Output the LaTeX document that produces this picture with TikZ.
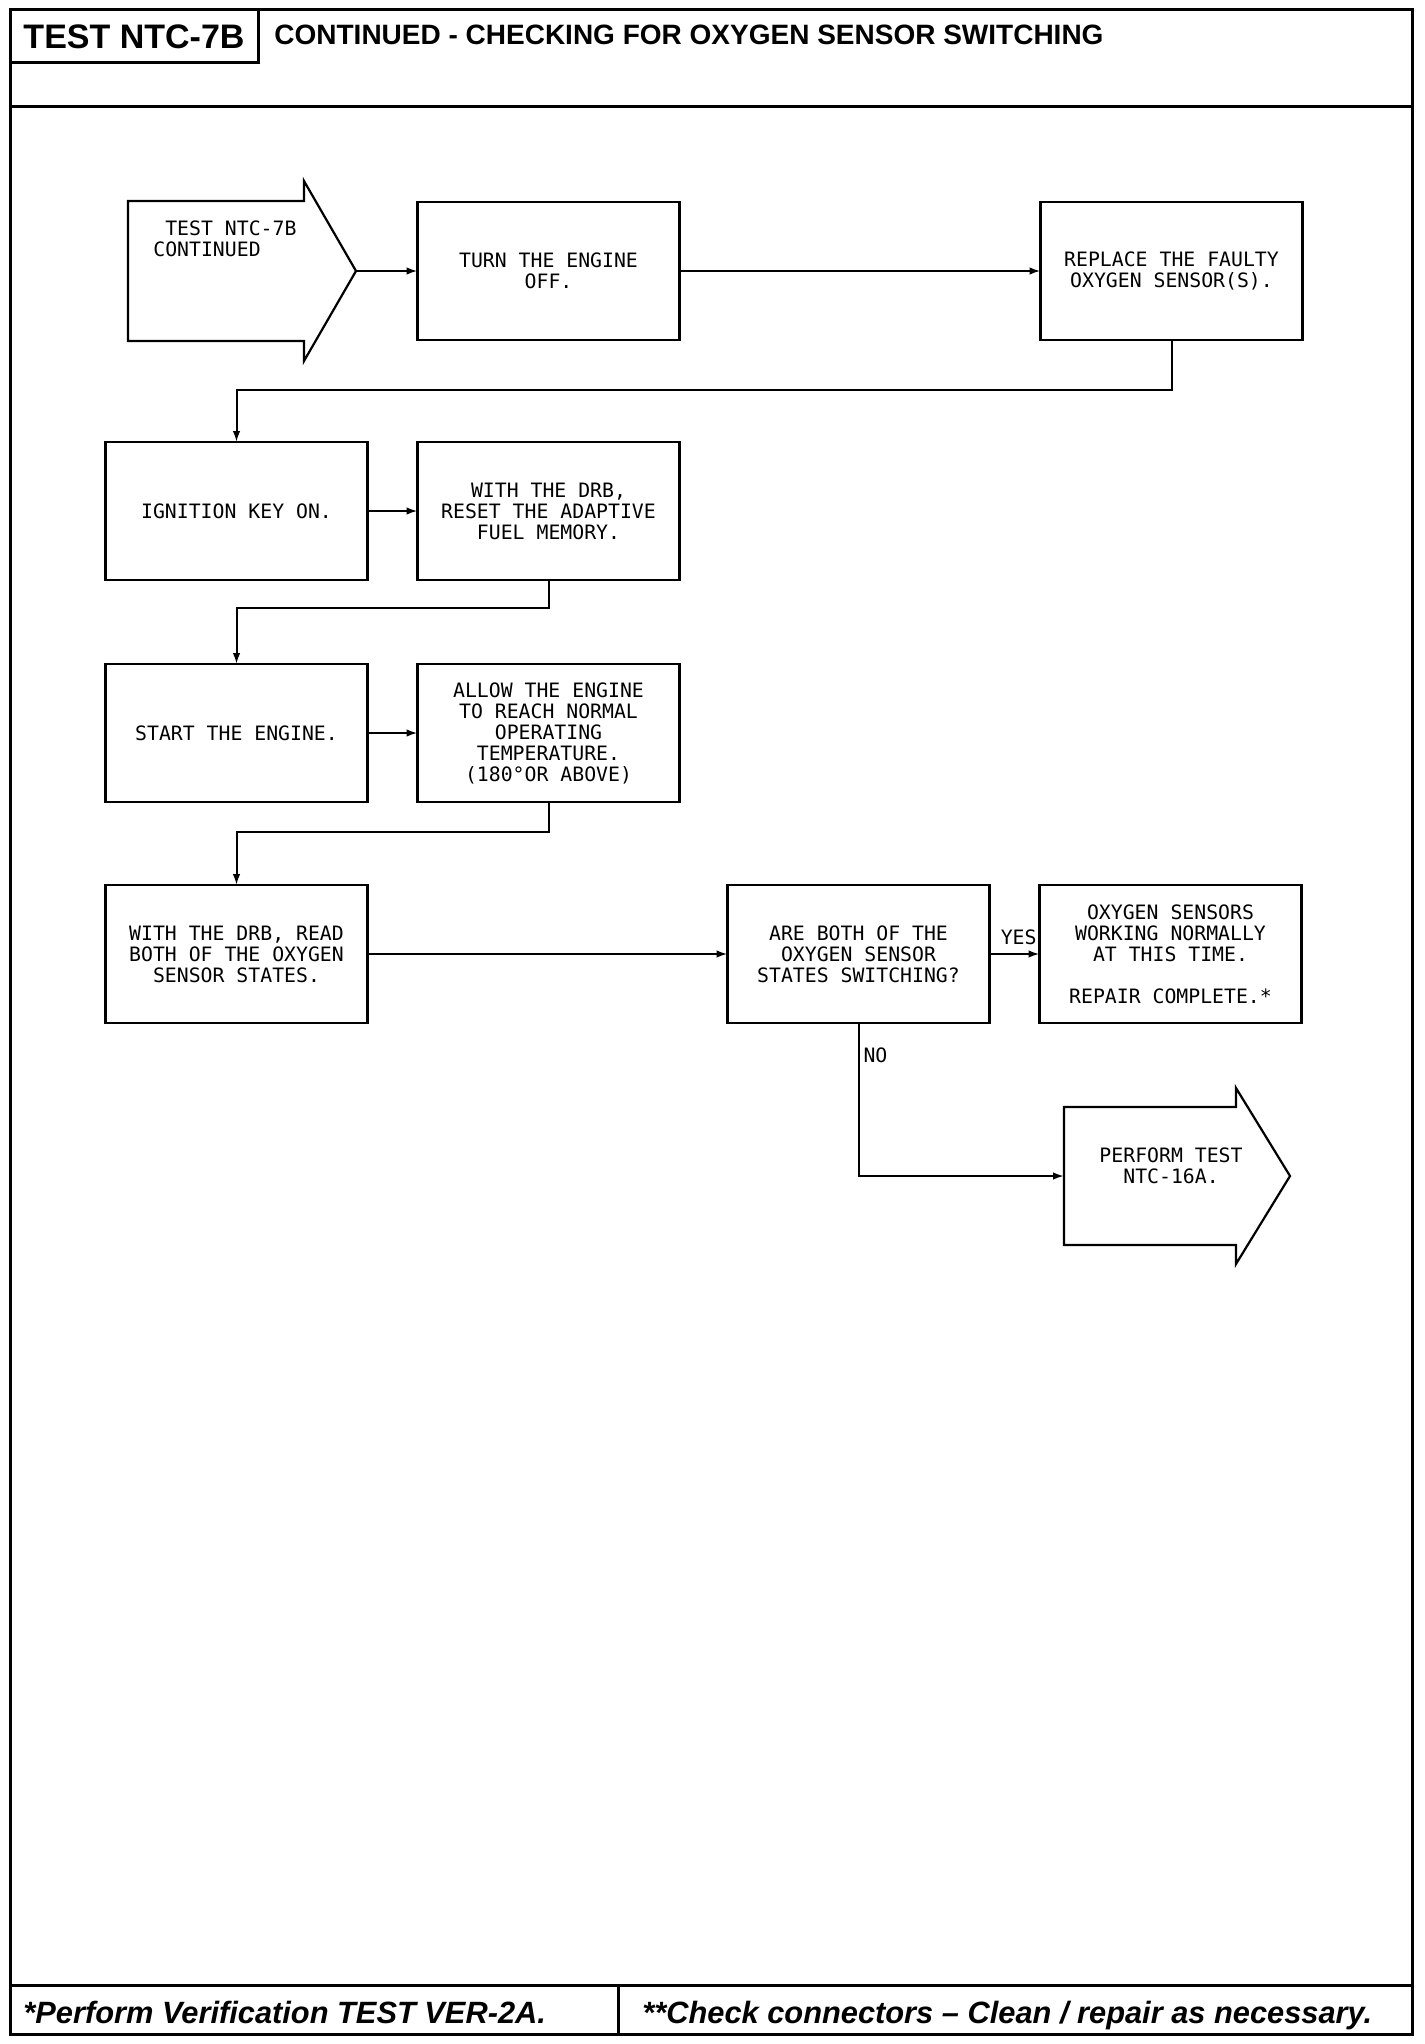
\documentclass[tikz,border=0pt]{standalone}
\usepackage{fontspec}
\usepackage{tikz}
\usetikzlibrary{arrows.meta,positioning,calc}
\newfontfamily\plotfont{DejaVu Sans Mono}
\newfontfamily\headfont{Liberation Sans}

\begin{document}
\begin{tikzpicture}[
  x=0.5pt, y=-0.5pt,
  stepbox/.style={draw, line width=1.1pt, outer sep=0pt, minimum width=131pt, minimum height=69pt, align=center, inner sep=2pt, font=\plotfont\fontsize{9.9}{10.5}\selectfont},
  tag/.style={font=\plotfont\fontsize{9.9}{10.5}\selectfont, inner sep=2pt},
  arr/.style={-{Latex[length=5.5pt,width=3.8pt]}, line width=1pt},
  frame/.style={line width=1.5pt},
]
\path[fill=white, use as bounding box] (0,0) rectangle (1424,2044);

% sheet frame, header and footer
\draw[frame] (10,10) rectangle (1412,2034);
\draw[frame] (10,107) -- (1412,107);
\draw[frame] (10,1985) -- (1412,1985);
\draw[frame] (618,1985) -- (618,2034);
\node[draw, frame, minimum width=124pt, minimum height=26.5pt, inner sep=0pt, font=\headfont\bfseries\fontsize{17}{19}\selectfont] (testtag) at (134,36.5) {TEST NTC-7B};
\node[anchor=west, inner sep=0pt, font=\headfont\bfseries\fontsize{14}{16}\selectfont] (title) at (274,35) {CONTINUED - CHECKING FOR OXYGEN SENSOR SWITCHING};
\node[anchor=base west, inner sep=0pt, font=\headfont\bfseries\itshape\fontsize{15.4}{17}\selectfont] (footL) at (23,2023) {*Perform Verification TEST VER-2A.};
\node[anchor=base west, inner sep=0pt, font=\headfont\bfseries\itshape\fontsize{15.4}{17}\selectfont] (footR) at (642,2023) {**Check connectors – Clean / repair as necessary.};

% entry arrow
\draw[line width=1.1pt] (128,201) -- (304,201) -- (304,181) -- (356,271) -- (304,361) -- (304,341) -- (128,341) -- cycle;
\coordinate (starttip) at (356,271);
\node[tag, anchor=west, align=left, inner sep=0pt] (starttext) at (153,238.5) {\phantom{T}TEST NTC-7B\\CONTINUED};

% steps
\node[stepbox] (ignition) at (236.5,511) {IGNITION KEY ON.};
\node[stepbox, right=25pt of ignition] (reset) {WITH THE DRB,\\RESET THE ADAPTIVE\\FUEL MEMORY.};
\node[stepbox, above=51pt of reset] (turnoff) {TURN THE ENGINE\\OFF.};
\node[stepbox, right=180.5pt of turnoff] (replace) {REPLACE THE FAULTY\\OXYGEN SENSOR(S).};
\node[stepbox, below=42pt of ignition] (startengine) {START THE ENGINE.};
\node[stepbox, right=25pt of startengine] (allow) {ALLOW THE ENGINE\\TO REACH NORMAL\\OPERATING\\TEMPERATURE.\\(180°OR ABOVE)};
\node[stepbox, below=41.5pt of startengine] (read) {WITH THE DRB, READ\\BOTH OF THE OXYGEN\\SENSOR STATES.};
\node[stepbox, right=180pt of read] (question) {ARE BOTH OF THE\\OXYGEN SENSOR\\STATES SWITCHING?};
\node[stepbox, right=25pt of question] (complete) {OXYGEN SENSORS\\WORKING NORMALLY\\AT THIS TIME.\\[10.5pt]REPAIR COMPLETE.*};

% exit arrow
\draw[line width=1.1pt] (1064,1107) -- (1236,1107) -- (1236,1088) -- (1290,1176) -- (1236,1264) -- (1236,1245) -- (1064,1245) -- cycle;
\coordinate (performin) at (1064,1176);
\node[tag, align=center, inner sep=0pt] (perform) at (1171,1166) {PERFORM TEST\\NTC-16A.};

% connectors
\draw[arr] (starttip) -- (turnoff.west);
\draw[arr] (turnoff.east) -- (replace.west);
\draw[arr] (replace.south) -- ++(0,50) -| (ignition.north);
\draw[arr] (ignition.east) -- (reset.west);
\draw[arr] (reset.south) -- ++(0,28) -| (startengine.north);
\draw[arr] (startengine.east) -- (allow.west);
\draw[arr] (allow.south) -- ++(0,30) -| (read.north);
\draw[arr] (read.east) -- (question.west);
\draw[arr] (question.east) -- (complete.west) node[tag, anchor=south east, yshift=3pt, inner sep=1pt] {YES};
\draw[arr] (question.south) |- node[tag, pos=0.107, right] {NO} (performin);
\end{tikzpicture}
\end{document}
